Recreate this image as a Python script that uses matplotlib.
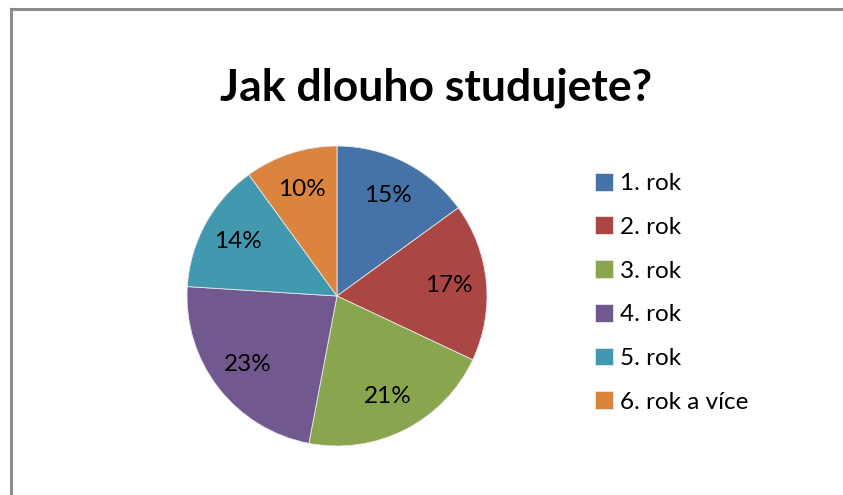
#!/usr/bin/env python

import matplotlib.pyplot as plt
from matplotlib.lines import Line2D

"""
Pie chart: Jak dlouho studujete?
"""

labels = ["1. rok", "2. rok", "3. rok", "4. rok", "5. rok", "6. rok a více"]
shares = [15, 17, 21, 23, 14, 10]
colors = ["#4572A7", "#AA4643", "#89A54E", "#71588F", "#4198AF", "#DB843D"]
title = "Jak dlouho studujete?"

plt.rcParams["font.family"] = ["Lato", "DejaVu Sans"]

W, H = 843, 495
fig = plt.figure(figsize=(W / 100, H / 100), dpi=100)

# pie centre (337, 296) px, radius 150 px
cx, cy, r = 337, 296, 150
ax = fig.add_axes([(cx - r) / W, (H - cy - r) / H, 2 * r / W, 2 * r / H])
wedges, texts, autotexts = ax.pie(
    shares,
    colors=colors,
    startangle=90,
    counterclock=False,
    autopct="%1.0f%%",
    pctdistance=0.75,
    radius=1.0,
    wedgeprops=dict(edgecolor="#e8e8e8", linewidth=0.6),
    textprops=dict(fontsize=17.5, color="black"),
)
ax.set_xlim(-1, 1)
ax.set_ylim(-1, 1)
ax.set_aspect("equal")
ax.axis("off")

fig.text(436 / W, 1 - 88 / H, title, ha="center", va="center",
         fontsize=32, fontweight="bold")

fig.legend(wedges, labels, loc="upper left",
           bbox_to_anchor=(585 / W, 1 - 163 / H),
           frameon=False, fontsize=17.5, handlelength=0.75, handleheight=0.75,
           handletextpad=0.3, labelspacing=0.92, borderaxespad=0)

# chart area border (left and top edges visible)
fig.add_artist(Line2D([11 / W, 11 / W], [0, 1 - 9 / H], color="#8c8c8c",
                      linewidth=2.2, transform=fig.transFigure))
fig.add_artist(Line2D([11 / W, 1], [1 - 9 / H, 1 - 9 / H], color="#8c8c8c",
                      linewidth=2.2, transform=fig.transFigure))

fig.savefig("out.png", dpi=100)
